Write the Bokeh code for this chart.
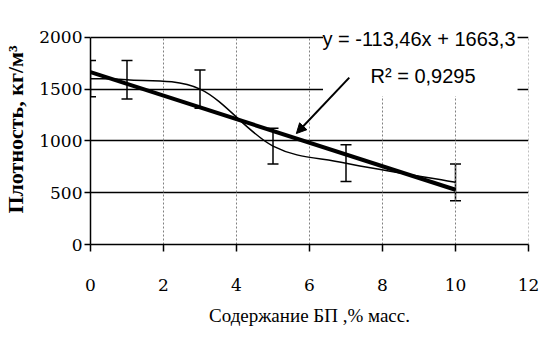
from bokeh.plotting import figure
from bokeh.models import (ColumnDataSource, Whisker, TeeHead, Arrow, NormalHead,
                          Label, FixedTicker, Range1d)
from bokeh.embed import file_html
from bokeh.resources import INLINE

# ---- data ----
content = [0, 1, 3, 5, 7, 10]                  # % mass
density = [1600, 1590, 1500, 950, 785, 600]    # kg/m3
err = [175, 185, 185, 172, 177, 177]
slope = -113.46
intercept = 1663.3
r2 = 0.9295
x_ticks = [0, 2, 4, 6, 8, 10, 12]
y_ticks = [0, 500, 1000, 1500, 2000]

y_top = 2220  # headroom above the 2000 line so the trendline label is inside the frame

p = figure(width=548, height=344, output_backend="svg", toolbar_location=None,
           x_range=Range1d(0, 12), y_range=Range1d(0, y_top),
           min_border_left=89, min_border_right=20, min_border_top=14,
           min_border_bottom=100)
p.outline_line_color = None
p.background_fill_color = "white"
p.border_fill_color = "white"

# grids
p.xgrid.grid_line_color = None
p.ygrid.ticker = FixedTicker(ticks=y_ticks)
p.ygrid.grid_line_color = "black"
p.ygrid.grid_line_width = 1.5
# vertical dotted grid lines, only up to the top tick
p.segment(x0=x_ticks[1:], x1=x_ticks[1:], y0=[y_ticks[0]] * (len(x_ticks) - 1),
          y1=[y_ticks[-1]] * (len(x_ticks) - 1), line_color="#808080",
          line_dash="2 2", line_width=1)

# axes
p.xaxis.ticker = FixedTicker(ticks=x_ticks)
p.yaxis.ticker = FixedTicker(ticks=y_ticks)
p.yaxis.bounds = (y_ticks[0], y_ticks[-1])
for ax in (p.xaxis[0], p.yaxis[0]):
    ax.axis_line_color = "black"
    ax.axis_line_width = 1.5
    ax.major_tick_line_color = "black"
    ax.major_tick_line_width = 1.5
    ax.major_tick_in = 0
    ax.minor_tick_line_color = None
    ax.major_label_text_color = "black"
    ax.major_label_text_font = "DejaVu Serif"
    ax.axis_label_text_color = "black"
    ax.axis_label_text_font = "Liberation Serif"
    ax.axis_label_text_font_style = "normal"

p.xaxis.major_tick_out = 7
p.xaxis.major_label_text_font_size = "17px"
p.xaxis.major_label_standoff = 27
p.xaxis.axis_label = "Содержание БП ,% масс."
p.xaxis.axis_label_text_font_size = "19px"
p.xaxis.axis_label_standoff = 11

p.yaxis.major_tick_out = 6
p.yaxis.major_label_text_font_size = "17px"
p.yaxis.major_label_standoff = 2
p.yaxis.axis_label = "Плотность, кг/м³"
p.yaxis.axis_label_text_font_size = "22px"
p.yaxis.axis_label_text_font_style = "bold"
p.yaxis.axis_label_standoff = 8

# smoothed data line (Catmull-Rom style bezier through the points)
n = len(content)
x0s, y0s, x1s, y1s, cx0s, cy0s, cx1s, cy1s = [], [], [], [], [], [], [], []
for i in range(n - 1):
    a = max(i - 1, 0)
    d = min(i + 2, n - 1)
    x0s.append(content[i]); y0s.append(density[i])
    x1s.append(content[i + 1]); y1s.append(density[i + 1])
    cx0s.append(content[i] + (content[i + 1] - content[a]) / 6)
    cy0s.append(density[i] + (density[i + 1] - density[a]) / 6)
    cx1s.append(content[i + 1] - (content[d] - content[i]) / 6)
    cy1s.append(density[i + 1] - (density[d] - density[i]) / 6)
p.bezier(x0=x0s, y0=y0s, x1=x1s, y1=y1s, cx0=cx0s, cy0=cy0s, cx1=cx1s, cy1=cy1s,
         line_color="black", line_width=1.5)

# trend line
tx = [content[0], content[-1]]
ty = [intercept + slope * v for v in tx]
p.line(tx, ty, line_color="black", line_width=4)

# white box behind the trendline label
p.quad(left=[6.37], right=[11.7], bottom=[1430], top=[2100],
       fill_color="white", line_color=None)

# error bars
src = ColumnDataSource(dict(x=content,
                            upper=[d + e for d, e in zip(density, err)],
                            lower=[d - e for d, e in zip(density, err)]))
w = Whisker(source=src, base="x", upper="upper", lower="lower",
            line_color="black", line_width=1.5,
            upper_head=TeeHead(size=11, line_color="black", line_width=1.5),
            lower_head=TeeHead(size=11, line_color="black", line_width=1.5))
p.add_layout(w)

# arrow
p.add_layout(Arrow(end=NormalHead(size=10, fill_color="black", line_color="black"),
                   x_start=7.09, y_start=1611, x_end=5.64, y_end=1071,
                   line_color="black", line_width=2))

# trendline label
eq = "y = " + f"{slope:.2f}".replace(".", ",") + "x + " + f"{intercept:.1f}".replace(".", ",")
p.add_layout(Label(x=9.0, y=1987, text=eq, text_font="Liberation Sans",
                   text_font_size="20px", text_align="center", text_baseline="middle",
                   text_color="black"))
p.add_layout(Label(x=9.11, y=1630, text="R² = " + f"{r2:.4f}".replace(".", ","),
                   text_font="Liberation Sans",
                   text_font_size="20px", text_align="center", text_baseline="middle",
                   text_color="black"))

open("out.html", "w").write(file_html(p, INLINE))
